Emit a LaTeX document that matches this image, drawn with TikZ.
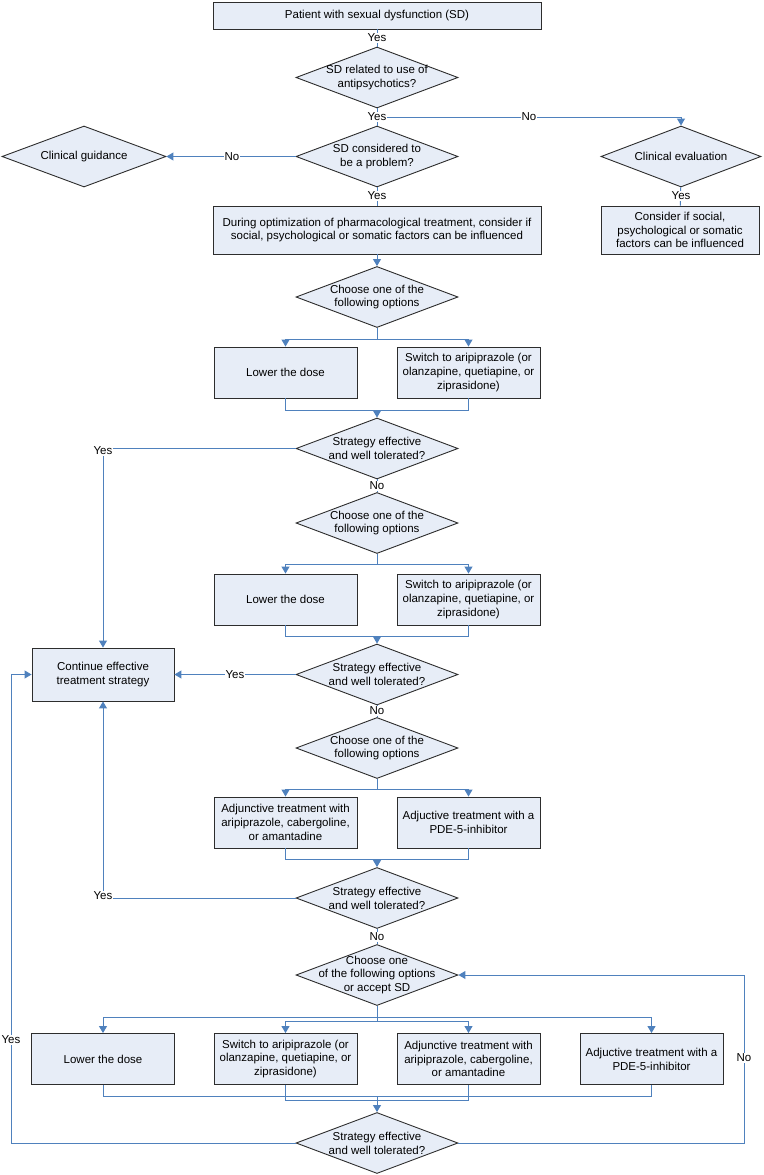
\documentclass[tikz,border=0pt]{standalone}
\usepackage{fontspec}
\setmainfont{Liberation Sans}
\usetikzlibrary{shapes.geometric,arrows.meta}
\definecolor{boxfill}{RGB}{231,237,247}
\definecolor{boxline}{RGB}{45,45,45}
\definecolor{conn}{RGB}{79,129,189}
\begin{document}
\begin{tikzpicture}[x=1pt,y=-1pt,
  every node/.style={font=\fontsize{11.5}{13.8}\selectfont},
  box/.style={rectangle, draw=boxline, fill=boxfill, line width=0.9pt, inner sep=0pt,
    minimum width=143pt, minimum height=51pt, align=center},
  dia/.style={diamond, draw=boxline, fill=boxfill, line width=0.9pt, inner sep=0pt,
    minimum width=162pt, minimum height=61pt},
  dtext/.style={align=center, inner sep=0pt},
  conn/.style={draw=conn, line width=1pt},
  arr/.style={-{Triangle[width=8pt,length=7pt]}},
  lab/.style={fill=white, inner sep=1pt}]
\useasboundingbox (0,0) rectangle (763,1175);

% ---------- nodes ----------
\node[box, minimum width=328pt, minimum height=27pt] (top) at (377,15.5) {Patient with sexual dysfunction (SD)};

\node[dia] (A) at (377,77.5) {};
\node[dtext] (At) at (A) {SD related to use of\\antipsychotics?};
\node[dia] (B) at (377,156.5) {};
\node[dtext] (Bt) at (B) {SD considered to\\be a problem?};
\node[dia, minimum width=164pt] (G) at (84,156.5) {};
\node[dtext] (Gt) at (G) {Clinical guidance};
\node[dia, minimum width=160pt] (E) at (681,156.5) {};
\node[dtext] (Et) at (E) {Clinical evaluation};

\node[box, minimum width=328pt, minimum height=48pt] (opt) at (377,230) {During optimization of pharmacological treatment, consider if\\social, psychological or somatic factors can be influenced};
\node[box, minimum width=158pt, minimum height=48pt] (cons) at (680,230) {Consider if social,\\psychological or somatic\\factors can be influenced};

\node[dia] (C1) at (377,297) {};
\node[dtext] (C1t) at (C1) {Choose one of the\\following options};
\node[box] (L1) at (285.5,372.5) {Lower the dose};
\node[box] (R1) at (468.5,372.5) {Switch to aripiprazole (or\\olanzapine, quetiapine, or\\ziprasidone)};
\node[dia] (S1) at (377,448.5) {};
\node[dtext] (S1t) at (S1) {Strategy effective\\and well tolerated?};

\node[dia] (C2) at (377,523) {};
\node[dtext] (C2t) at (C2) {Choose one of the\\following options};
\node[box] (L2) at (285.5,599.5) {Lower the dose};
\node[box] (R2) at (468.5,599.5) {Switch to aripiprazole (or\\olanzapine, quetiapine, or\\ziprasidone)};
\node[dia] (S2) at (377,674.5) {};
\node[dtext] (S2t) at (S2) {Strategy effective\\and well tolerated?};
\node[box, minimum width=142pt, minimum height=53pt] (cont) at (103,674.5) {Continue effective\\treatment strategy};

\node[dia] (C3) at (377,748) {};
\node[dtext] (C3t) at (C3) {Choose one of the\\following options};
\node[box] (L3) at (285.5,822.5) {Adjunctive treatment with\\aripiprazole, cabergoline,\\or amantadine};
\node[box] (R3) at (468.5,822.5) {Adjuctive treatment with a\\PDE-5-inhibitor};
\node[dia] (S3) at (377,898) {};
\node[dtext] (S3t) at (S3) {Strategy effective\\and well tolerated?};

\node[dia] (C4) at (377,975) {};
\node[dtext] (C4t) at (C4) {Choose one\\of the following options\\or accept SD};
\node[box] (B1) at (103,1059) {Lower the dose};
\node[box] (B2) at (285.5,1059) {Switch to aripiprazole (or\\olanzapine, quetiapine, or\\ziprasidone)};
\node[box] (B3) at (468.5,1059) {Adjunctive treatment with\\aripiprazole, cabergoline,\\or amantadine};
\node[box] (B4) at (651.5,1059) {Adjuctive treatment with a\\PDE-5-inhibitor};
\node[dia] (S4) at (377,1143) {};
\node[dtext] (S4t) at (S4) {Strategy effective\\and well tolerated?};

% ---------- junction coordinates ----------
\coordinate (Aj) at (377,117);
\coordinate (c1j) at (377,339);
\coordinate (m1) at (377,410);
\coordinate (c2j) at (377,564);
\coordinate (m2) at (377,636);
\coordinate (c3j) at (377,789);
\coordinate (m3) at (377,859);
\coordinate (c4j) at (377,1017);
\coordinate (c4k) at (377,1021);
\coordinate (m4o) at (377,1096);
\coordinate (m4i) at (377,1100);
\coordinate (lx) at (11,1143);
\coordinate (rx) at (744,1143);

% ---------- connectors ----------
\draw[conn] (top) -- (A);
\draw[conn] (A) -- (B);
\draw[conn, arr] (Aj) -| (E.north);
\draw[conn, arr] (B.west) -- (G.east);
\draw[conn] (B) -- (opt);
\draw[conn] (E) -- (cons);
\draw[conn, arr] (opt) -- (C1.north);

\draw[conn] (C1.south) -- (c1j);
\draw[conn, arr] (c1j) -| (L1.north);
\draw[conn, arr] (c1j) -| (R1.north);
\draw[conn] (L1.south) |- (m1);
\draw[conn] (R1.south) |- (m1);
\draw[conn, arr] (m1) -- (S1.north);
\draw[conn, arr] (S1.west) -| (cont.north);
\draw[conn] (S1) -- (C2);

\draw[conn] (C2.south) -- (c2j);
\draw[conn, arr] (c2j) -| (L2.north);
\draw[conn, arr] (c2j) -| (R2.north);
\draw[conn] (L2.south) |- (m2);
\draw[conn] (R2.south) |- (m2);
\draw[conn, arr] (m2) -- (S2.north);
\draw[conn, arr] (S2.west) -- (cont.east);
\draw[conn] (S2) -- (C3);

\draw[conn] (C3.south) -- (c3j);
\draw[conn, arr] (c3j) -| (L3.north);
\draw[conn, arr] (c3j) -| (R3.north);
\draw[conn] (L3.south) |- (m3);
\draw[conn] (R3.south) |- (m3);
\draw[conn, arr] (m3) -- (S3.north);
\draw[conn, arr] (S3.west) -| (cont.south);
\draw[conn] (S3) -- (C4);

\draw[conn] (C4.south) -- (c4k);
\draw[conn, arr] (c4j) -| (B1.north);
\draw[conn, arr] (c4j) -| (B4.north);
\draw[conn, arr] (c4k) -| (B2.north);
\draw[conn, arr] (c4k) -| (B3.north);
\draw[conn] (B1.south) |- (m4o);
\draw[conn] (B4.south) |- (m4o);
\draw[conn] (B2.south) |- (m4i);
\draw[conn] (B3.south) |- (m4i);
\draw[conn, arr] (m4o) -- (S4.north);
\draw[conn, arr] (S4.west) -- (lx) |- (cont.west);
\draw[conn, arr] (S4.east) -- (rx) |- (C4.east);

% ---------- connector labels ----------
\node[lab] (y1) at (377,38) {Yes};
\node[lab] (y2) at (377,117) {Yes};
\node[lab] (n1) at (529,117) {No};
\node[lab] (n2) at (232,156.5) {No};
\node[lab] (y3) at (377,196) {Yes};
\node[lab] (y4) at (681,196) {Yes};
\node[lab] (y5) at (103,451) {Yes};
\node[lab] (n3) at (377,486) {No};
\node[lab] (y6) at (235,674.5) {Yes};
\node[lab] (n4) at (377,711) {No};
\node[lab] (y7) at (103,896) {Yes};
\node[lab] (n5) at (377,936.5) {No};
\node[lab] (y8) at (11,1040) {Yes};
\node[lab] (n6) at (744,1058) {No};
\end{tikzpicture}
\end{document}
